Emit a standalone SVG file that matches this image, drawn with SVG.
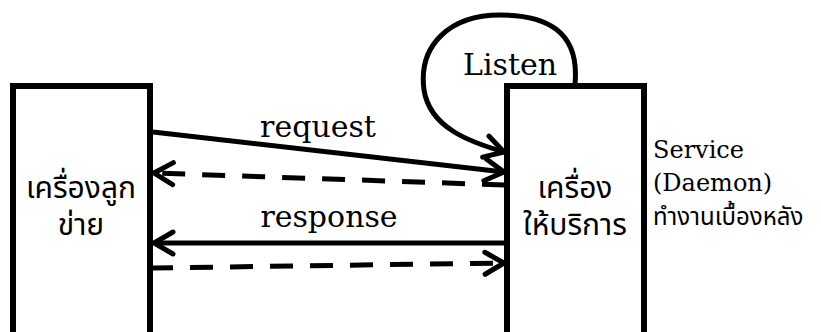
<svg xmlns="http://www.w3.org/2000/svg" width="821" height="332" viewBox="0 0 821 332">
<style>
.box{fill:#fff;stroke:#000;stroke-width:6}
.ln{fill:none;stroke:#000;stroke-width:5}
.dash{stroke-dasharray:23 17}
.lat{font-family:"DejaVu Serif",serif;fill:#000}
.th{font-family:"Noto Sans Thai","Noto Sans","DejaVu Sans",sans-serif;fill:#000;font-size:30px;text-anchor:middle}
</style>
<defs>
<marker id="ah" markerUnits="userSpaceOnUse" markerWidth="40" markerHeight="40" viewBox="-25 -20 40 40" refX="0" refY="0" orient="auto">
<path d="M-19,-11 L0,0 L-19,11" fill="none" stroke="#000" stroke-width="5" stroke-linecap="round" stroke-linejoin="miter"/>
</marker>
</defs>
<rect x="0" y="0" width="821" height="332" fill="#fff"/>
<g id="client">
<rect class="box" x="13" y="86" width="137" height="260"/>
<text class="th" x="81" y="198">เครื่องลูก</text>
<text class="th" x="81" y="235">ข่าย</text>
</g>
<g id="server">
<rect class="box" x="507" y="86" width="137" height="260"/>
<text class="th" x="575" y="198">เครื่อง</text>
<text class="th" x="575" y="235">ให้บริการ</text>
</g>
<g id="service-label">
<text class="lat" x="653" y="158" font-size="24">Service</text>
<text class="lat" x="653" y="191" font-size="24">(Daemon)</text>
<text class="th" x="653" y="225" style="text-anchor:start;font-size:24px">ทำงานเบื้องหลัง</text>
</g>
<g id="connectors">
<path class="ln" d="M575,84 C580,30 545,15 500,15 C450,15 418,45 424,90 C430,128 470,142 504,152" stroke-width="4.5" marker-end="url(#ah)"/>
<path class="ln" d="M153,132 L504,172" marker-end="url(#ah)"/>
<path class="ln dash" d="M505,185 L154,173" marker-end="url(#ah)"/>
<path class="ln" d="M505,243 L154,243" marker-end="url(#ah)"/>
<path class="ln dash" style="stroke-dashoffset:3" d="M153,268 L504,263" marker-end="url(#ah)"/>
</g>
<g id="labels">
<text class="lat" x="510" y="75" font-size="30" text-anchor="middle">Listen</text>
<text class="lat" x="318" y="137" font-size="30" text-anchor="middle">request</text>
<text class="lat" x="329" y="227" font-size="30" text-anchor="middle">response</text>
</g>
</svg>
